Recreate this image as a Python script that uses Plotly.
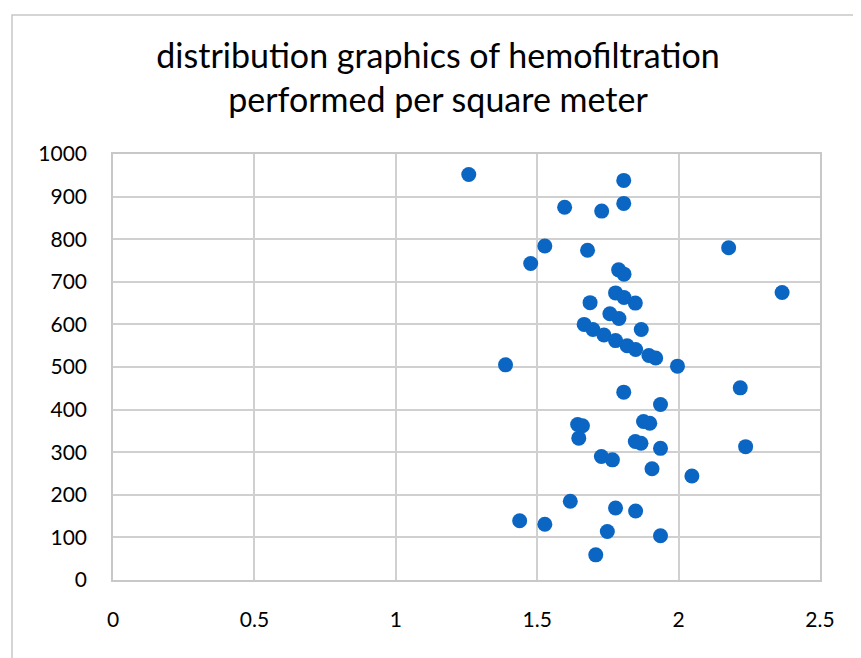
import plotly.graph_objects as go

title_lines = ["distribution graphics of hemofiltration", "performed per square meter"]

surface_m2 = [1.258, 1.806, 1.597, 1.728, 1.806, 1.527, 1.477, 1.678, 2.177, 1.788,
              1.807, 2.366, 1.777, 1.807, 1.847, 1.687, 1.757, 1.789, 1.868, 1.666,
              1.697, 1.736, 1.777, 1.818, 1.848, 1.895, 1.919, 1.996, 1.388, 1.806,
              2.218, 1.936, 1.876, 1.898, 1.643, 1.660, 1.647, 1.847, 1.867, 1.936,
              2.237, 1.727, 1.766, 1.906, 2.047, 1.617, 1.777, 1.848, 1.438, 1.527,
              1.748, 1.936, 1.707]
volume = [952, 938, 875, 866, 884, 784, 743, 774, 780, 728,
          718, 675, 674, 663, 650, 651, 625, 614, 588, 600,
          588, 575, 562, 550, 541, 527, 521, 502, 505, 441,
          451, 412, 372, 368, 365, 362, 333, 325, 321, 309,
          313, 290, 282, 261, 244, 185, 169, 162, 139, 131,
          114, 104, 59]

x_ticks = [0, 0.5, 1, 1.5, 2, 2.5]
x_tick_text = ["0", "0.5", "1", "1.5", "2", "2.5"]
y_ticks = list(range(0, 1001, 100))

# page has an 8px body margin; figure is sized so the page still spans 861x658
OFF = 8
W, H = 861 - OFF, 658 - OFF
L, R, T, B = 113 - OFF, W - (820 - OFF), 154 - OFF, H - (580 - OFF)
PW, PH = W - L - R, H - T - B

fig = go.Figure()
fig.add_trace(go.Scatter(
    x=surface_m2, y=volume, mode="markers",
    marker=dict(size=15, color="#0a66c2", line=dict(width=0)),
    showlegend=False, hoverinfo="x+y"))

font_family = "Lato, 'Open Sans', sans-serif"
fig.update_layout(
    width=W, height=H,
    margin=dict(l=L, r=R, t=T, b=B),
    paper_bgcolor="white", plot_bgcolor="white",
    font=dict(family=font_family, color="#000000"),
    title=dict(text="<br>".join(title_lines), x=(438 - OFF) / W, xanchor="center",
               y=1 - (68 - OFF) / H, yanchor="middle",
               font=dict(size=34, family=font_family, color="#000000")),
    xaxis=dict(range=[0, 2.5], tickvals=x_ticks, ticktext=x_tick_text,
               showgrid=True, gridcolor="#d0d0d0", gridwidth=1.5,
               showline=True, linecolor="#c8c8c8", linewidth=1.5, mirror=True,
               zeroline=False, ticks="", tickfont=dict(size=21),
               ticklabelstandoff=20),
    yaxis=dict(range=[0, 1000], tickvals=y_ticks,
               showgrid=True, gridcolor="#d0d0d0", gridwidth=1.5,
               showline=True, linecolor="#c8c8c8", linewidth=1.5, mirror=True,
               zeroline=False, ticks="", tickfont=dict(size=21),
               ticklabelstandoff=20),
    shapes=[dict(type="rect", xref="paper", yref="paper",
                 x0=(12 - 113) / PW, x1=1.2, y0=-0.3, y1=(580 - 15) / PH,
                 line=dict(color="#c8c8c8", width=1.5), fillcolor="rgba(0,0,0,0)",
                 layer="below")],
)

fig.write_html("out.html")
